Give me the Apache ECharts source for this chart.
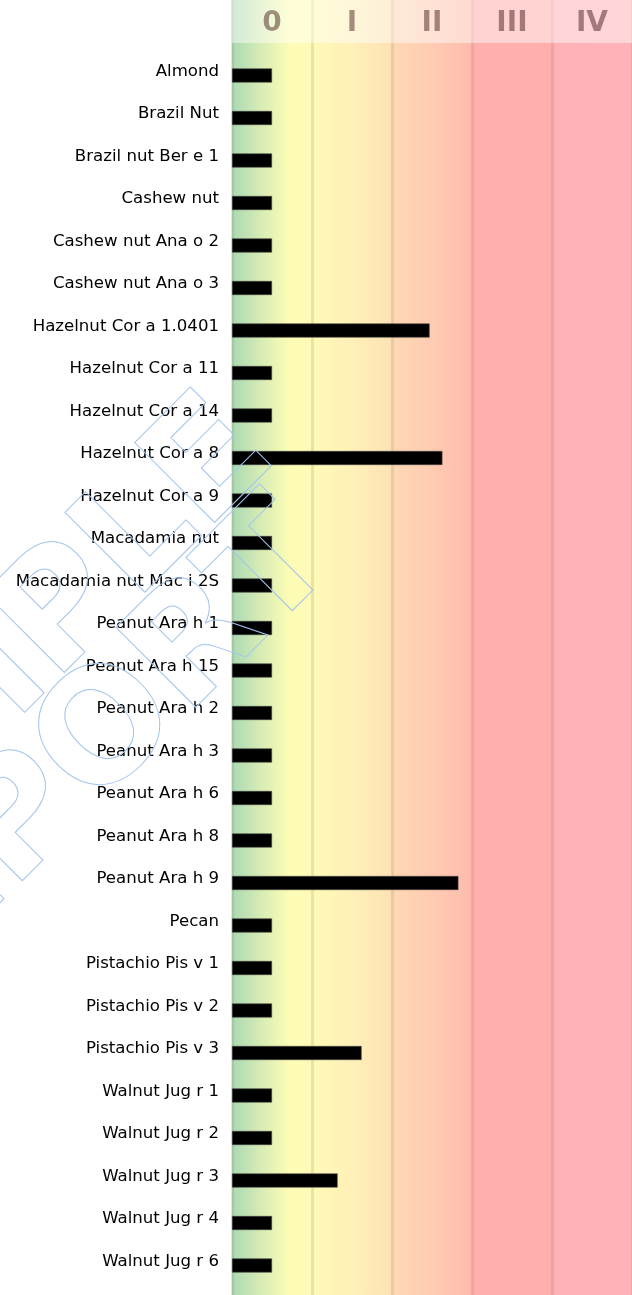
<!DOCTYPE html>
<html>
<head>
<meta charset="utf-8">
<script src="https://cdn.jsdelivr.net/npm/echarts@6/dist/echarts.min.js"></script>
<style>
  html, body { margin: 0; padding: 0; background: #fff; }
  #chart { width: 632px; height: 1295px; }
</style>
</head>
<body>
<div id="chart"></div>
<script>
const categories = [
  'Almond', 'Brazil Nut', 'Brazil nut Ber e 1', 'Cashew nut', 'Cashew nut Ana o 2',
  'Cashew nut Ana o 3', 'Hazelnut Cor a 1.0401', 'Hazelnut Cor a 11', 'Hazelnut Cor a 14',
  'Hazelnut Cor a 8', 'Hazelnut Cor a 9', 'Macadamia nut', 'Macadamia nut Mac i 2S',
  'Peanut Ara h 1', 'Peanut Ara h 15', 'Peanut Ara h 2', 'Peanut Ara h 3', 'Peanut Ara h 6',
  'Peanut Ara h 8', 'Peanut Ara h 9', 'Pecan', 'Pistachio Pis v 1', 'Pistachio Pis v 2',
  'Pistachio Pis v 3', 'Walnut Jug r 1', 'Walnut Jug r 2', 'Walnut Jug r 3',
  'Walnut Jug r 4', 'Walnut Jug r 6'
]
const classValues = [
  0.5, 0.5, 0.5, 0.5, 0.5,
  0.5, 2.47, 0.5, 0.5,
  2.63, 0.5, 0.5, 0.5,
  0.5, 0.5, 0.5, 0.5, 0.5,
  0.5, 2.83, 0.5, 0.5, 0.5,
  1.62, 0.5, 0.5, 1.32,
  0.5, 0.5
]
const classLabels = ['0', 'I', 'II', 'III', 'IV']

const chart = echarts.init(document.getElementById('chart'))

const bgGradient = new echarts.graphic.LinearGradient(0, 0, 1, 0, [
  { offset: 0, color: '#aad9b4' },
  { offset: 0.07, color: '#d6ebb4' },
  { offset: 0.145, color: '#fdfdb5' },
  { offset: 0.2, color: '#fffab8' },
  { offset: 0.3, color: '#fff0b8' },
  { offset: 0.395, color: '#fde2b5' },
  { offset: 0.405, color: '#fed8b4' },
  { offset: 0.5, color: '#ffcbb2' },
  { offset: 0.595, color: '#ffbcaf' },
  { offset: 0.605, color: '#ffafad' },
  { offset: 0.795, color: '#ffafad' },
  { offset: 0.805, color: '#ffb2b6' },
  { offset: 1, color: '#ffb3b8' }
])

// watermark stroke style
const wmStyle = {
  font: 'bold 155px "DejaVu Sans"',
  align: 'center',
  verticalAlign: 'middle',
  fill: 'none',
  stroke: '#a3c6ec',
  lineWidth: 1
}

chart.setOption({
  animation: false,
  grid: [
    // background + class columns
    { left: 232, width: 400, top: 0, height: 1295, show: true, backgroundColor: bgGradient, borderWidth: 0 },
    // bars
    { left: 232, width: 400, top: 54.25, height: 1232.5 }
  ],
  xAxis: [
    {
      gridIndex: 0,
      type: 'value',
      min: 0,
      max: 5,
      interval: 1,
      axisLine: { show: false },
      axisTick: { show: false },
      axisLabel: { show: false },
      splitLine: { show: true, lineStyle: { color: 'rgba(150,100,60,0.16)', width: 3 } }
    },
    {
      gridIndex: 0,
      type: 'category',
      position: 'top',
      z: 10,
      data: classLabels,
      axisLine: { show: false },
      axisTick: { show: false },
      splitLine: { show: false },
      axisLabel: {
        inside: true,
        margin: 10,
        color: 'rgba(50,10,10,0.45)',
        fontFamily: 'DejaVu Sans',
        fontWeight: 'bold',
        fontSize: 28
      }
    },
    {
      gridIndex: 1,
      type: 'value',
      min: 0,
      max: 5,
      interval: 1,
      show: false
    }
  ],
  yAxis: [
    {
      gridIndex: 0,
      type: 'value',
      show: false
    },
    {
      gridIndex: 1,
      type: 'category',
      inverse: true,
      data: categories,
      axisLine: { show: false },
      axisTick: { show: false },
      axisLabel: {
        margin: 13,
        color: '#000',
        fontFamily: 'DejaVu Sans',
        fontSize: 16.6,
        verticalAlign: 'bottom',
        lineHeight: 8
      }
    }
  ],
  graphic: [
    {
      type: 'rect',
      shape: { x: 232, y: 0, width: 400, height: 43 },
      style: { fill: 'rgba(255,255,255,0.45)' },
      z: 1
    },
    {
      type: 'text',
      x: 2,
      y: 678,
      rotation: Math.PI / 4,
      z: 100,
      style: Object.assign({ text: 'SAMPLE' }, wmStyle)
    },
    {
      type: 'text',
      x: 68,
      y: 778,
      rotation: Math.PI / 4,
      z: 100,
      style: Object.assign({ text: 'REPORT' }, wmStyle)
    }
  ],
  series: [{
    type: 'bar',
    xAxisIndex: 2,
    yAxisIndex: 1,
    data: classValues,
    barWidth: 14,
    itemStyle: {
      color: '#000',
      borderColor: '#444',
      borderWidth: 0.6
    }
  }]
})
</script>
</body>
</html>
